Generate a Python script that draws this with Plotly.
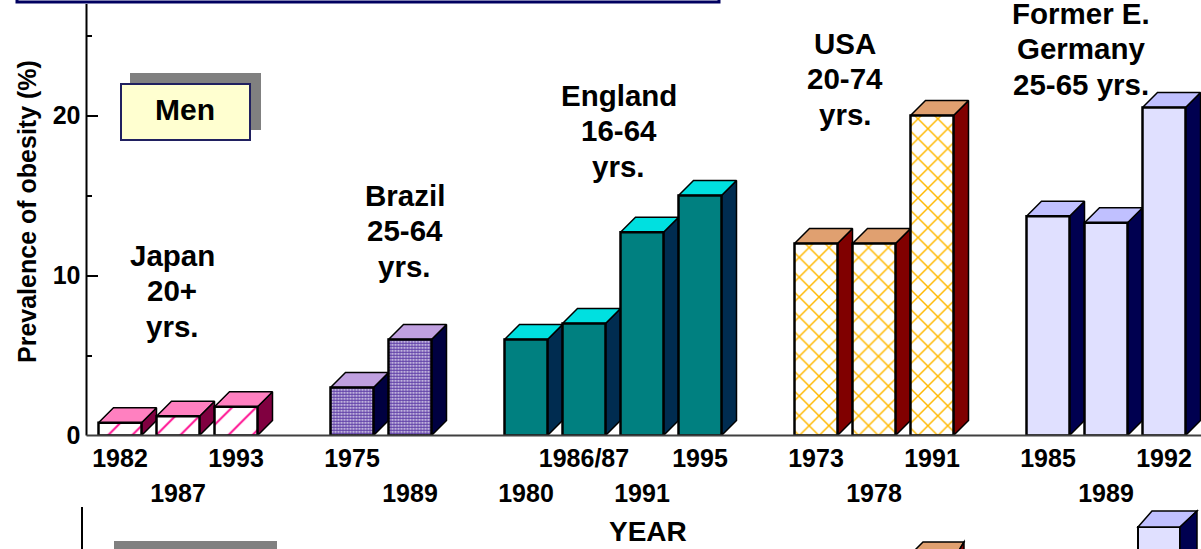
import plotly.graph_objects as go

W, H = 1201, 549

# data
countries = ["Japan", "Brazil", "England", "USA", "Germany"]
slots = {
    "Japan": [0, 1, 2],
    "Brazil": [4, 5],
    "England": [7, 8, 9, 10],
    "USA": [12, 13, 14],
    "Germany": [16, 17, 18],
}
years = {
    "Japan": ["1982", "1987", "1993"],
    "Brazil": ["1975", "1989"],
    "England": ["1980", "1986/87", "1991", "1995"],
    "USA": ["1973", "1978", "1991"],
    "Germany": ["1985", "1989", "1992"],
}
values = {
    "Japan": [0.8, 1.2, 1.8],
    "Brazil": [3.0, 6.0],
    "England": [6.0, 7.0, 12.7, 15.0],
    "USA": [12.0, 12.0, 20.0],
    "Germany": [13.7, 13.3, 20.5],
}
row_two = {"Japan": [1], "Brazil": [1], "England": [0, 2], "USA": [1], "Germany": [1]}
group_labels = {
    "Japan": (["Japan", "20+", "yrs."], 0.897, 11.28),
    "Brazil": (["Brazil", "25-64", "yrs."], 4.91, 15.03),
    "England": (["England", "16-64", "yrs."], 8.6, 21.28),
    "USA": (["USA", "20-74", "yrs."], 12.5, 24.53),
    "Germany": (["Former E.", "Germany", "25-65 yrs."], 16.57, 26.4),
}
styles = {
    "Japan": dict(front="#FFFFFF", pat="/", fg="#FF1493", size=17, sol=0.12, top="#FF80C0", side="#800040"),
    "Brazil": dict(front="#FFFFFF", pat=".", fg="#6040A8", size=3, sol=0.7, top="#C0A0E0", side="#000040"),
    "England": dict(front="#008080", pat="", fg="#008080", size=8, sol=0.3, top="#00E0E0", side="#002C50"),
    "USA": dict(front="#FFFFFF", pat="x", fg="#FFB800", size=14, sol=0.2, top="#E0A070", side="#800000"),
    "Germany": dict(front="#E0E0FF", pat="", fg="#E0E0FF", size=8, sol=0.3, top="#C0C0FF", side="#000050"),
}

# scales
SLOT_PX = 58.0
SLOT0_PX = 120.0
BASE_Y = 435.5
UNIT_PX = 16.0
AXIS_X = 86.5
BAR_W = 43 / SLOT_PX
DX = 15 / SLOT_PX
DY = 15 / UNIT_PX
LINE_STEP = 35.7 / UNIT_PX


def px(x):
    return x / W


def py(y):
    return 1 - y / H


xrange_ = [(AXIS_X - SLOT0_PX) / SLOT_PX, (W - SLOT0_PX) / SLOT_PX]
yrange_ = [0, BASE_Y / UNIT_PX]

fig = go.Figure()

for c in countries:
    st = styles[c]
    for s, v in zip(slots[c], values[c]):
        l, r = s - BAR_W / 2, s + BAR_W / 2
        fig.add_trace(go.Scatter(
            x=[r, r + DX, r + DX, r, r], y=[0, DY, v + DY, v, 0],
            mode="lines", fill="toself", fillcolor=st["side"],
            line=dict(color="#000000", width=1.5), hoverinfo="skip", showlegend=False, zorder=0))
        fig.add_trace(go.Scatter(
            x=[l, l + DX, r + DX, r, l], y=[v, v + DY, v + DY, v, v],
            mode="lines", fill="toself", fillcolor=st["top"],
            line=dict(color="#000000", width=1.5), hoverinfo="skip", showlegend=False, zorder=0))
    fig.add_trace(go.Bar(
        x=slots[c], y=values[c], width=BAR_W, name=c, showlegend=False, zorder=1,
        marker=dict(
            color=st["front"], line=dict(color="#000000", width=2.5),
            pattern=dict(shape=st["pat"], fgcolor=st["fg"], bgcolor=st["front"],
                         size=st["size"], solidity=st["sol"], fillmode="replace"))))

row1_vals, row1_text, row2_vals, row2_text = [], [], [], []
for c in countries:
    for i, (s, y) in enumerate(zip(slots[c], years[c])):
        if i in row_two[c]:
            row2_vals.append(s); row2_text.append(y)
        else:
            row1_vals.append(s); row1_text.append(y)

# keeps the second label row's axis alive
fig.add_trace(go.Scatter(x=row2_vals, y=[0] * len(row2_vals), xaxis="x2", mode="markers",
                         marker=dict(opacity=0), hoverinfo="skip", showlegend=False))

FONT = "Liberation Sans, Arial, sans-serif"
tick_font = dict(family=FONT, size=25, color="#000000", weight="bold")
label_font = dict(family=FONT, size=29.5, color="#000000", weight="bold")

annotations = []
for lines, gx, gy in group_labels.values():
    for i, line_text in enumerate(lines):
        annotations.append(dict(x=gx, y=gy - i * LINE_STEP, xref="x", yref="y", text=line_text, showarrow=False,
                                font=label_font, xanchor="center", yanchor="middle"))
annotations += [
    dict(x=px(185), y=py(110), xref="paper", yref="paper", text="Men", showarrow=False,
         xanchor="center", yanchor="middle",
         font=dict(family=FONT, size=30, color="#000000", weight="bold")),
    dict(x=px(648), y=py(531), xref="paper", yref="paper", text="YEAR", showarrow=False,
         xanchor="center", yanchor="middle",
         font=dict(family=FONT, size=28, color="#000000", weight="bold")),
    dict(x=px(27), y=py(212), xref="paper", yref="paper", text="Prevalence of obesity (%)", showarrow=False,
         textangle=-90, xanchor="center", yanchor="middle",
         font=dict(family=FONT, size=25, color="#000000", weight="bold")),
]


def rect(x0, y0, x1, y1, fill, line="rgba(0,0,0,0)", width=0):
    return dict(type="rect", xref="paper", yref="paper", x0=px(x0), x1=px(x1), y0=py(y1), y1=py(y0),
                fillcolor=fill, line=dict(color=line, width=width), layer="below")


def poly(pts, fill, width=1.5):
    path = "M " + " L ".join(f"{px(a)},{py(b)}" for a, b in pts) + " Z"
    return dict(type="path", xref="paper", yref="paper", path=path, fillcolor=fill,
                line=dict(color="#000000", width=width), layer="below")


def line(x0, y0, x1, y1, color, width=2):
    return dict(type="line", xref="paper", yref="paper", x0=px(x0), x1=px(x1), y0=py(y0), y1=py(y1),
                line=dict(color=color, width=width), layer="above")


shapes = [
    rect(130, 73, 261, 130, "#808080"),
    rect(121, 84, 250, 140, "#FFFFD0", "#202060", 2),
    rect(17, -4, 719, 2, "#FFFFFF", "#000060", 3),
    line(82, 507, 82, 549, "#000000"),
    line(AXIS_X, 4, AXIS_X, BASE_Y, "#000000"),
    line(AXIS_X, BASE_Y, W, BASE_Y, "#404040"),
    rect(114, 541, 277, 552, "#808080"),
    poly([(913, 552), (923, 542), (964, 542), (958, 552)], "#E0A070"),
    poly([(964, 542), (964, 552), (958, 552)], "#800000"),
    rect(1138, 527, 1180, 552, "#E0E0FF", "#000000", 2),
    poly([(1138, 527), (1152, 511), (1197, 511), (1180, 527)], "#C0C0FF"),
    poly([(1180, 527), (1197, 511), (1197, 552), (1180, 552)], "#000050"),
]

fig.update_layout(
    width=W, height=H, autosize=False, margin=dict(l=0, r=0, t=0, b=0, pad=0),
    paper_bgcolor="#FFFFFF", plot_bgcolor="rgba(0,0,0,0)", barmode="overlay", showlegend=False,
    shapes=shapes, annotations=annotations,
    xaxis=dict(domain=[px(AXIS_X), 1], range=xrange_, tickmode="array", tickvals=row1_vals,
               ticktext=row1_text, ticks="", showgrid=False, zeroline=False, showline=False, automargin=False,
               tickfont=tick_font, ticklabelstandoff=5, tickangle=0),
    xaxis2=dict(domain=[px(AXIS_X), 1], range=xrange_, overlaying="x", anchor="y", side="bottom", automargin=False,
                tickmode="array", tickvals=row2_vals, ticktext=row2_text, ticks="", showgrid=False,
                zeroline=False, showline=False, tickfont=tick_font, ticklabelstandoff=40, tickangle=0),
    yaxis=dict(domain=[1 - BASE_Y / H, 1], range=yrange_, tickmode="array", tickvals=[0, 10, 20],
               ticks="inside", ticklen=11, tickwidth=2, tickcolor="#000000", showgrid=False, zeroline=False,
               showline=False, tickfont=tick_font, ticklabelstandoff=5, automargin=False,
               minor=dict(tickvals=[5, 15, 25], ticks="inside", ticklen=5, tickwidth=2, tickcolor="#000000")),
)

fig.write_html("out.html", config=dict(displayModeBar=False),
               post_script="document.body.style.margin='0';")
